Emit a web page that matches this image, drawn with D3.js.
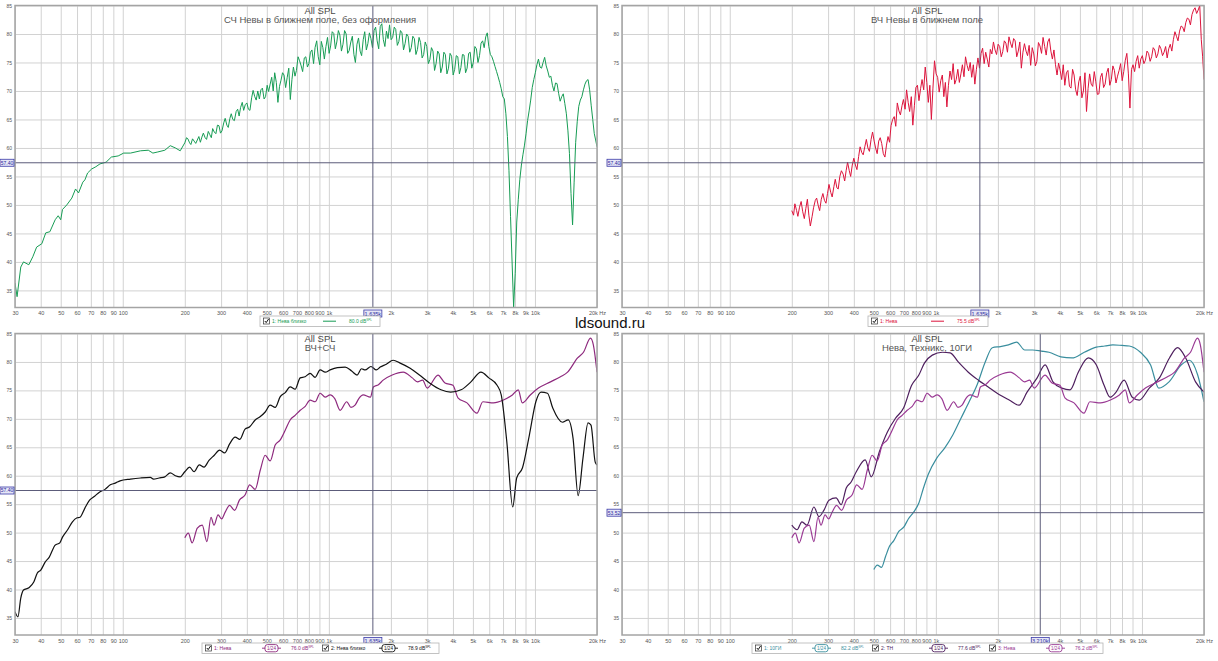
<!DOCTYPE html>
<html>
<head>
<meta charset="utf-8">
<script src="https://cdn.jsdelivr.net/npm/d3@7"></script>
<style>
  html, body { margin: 0; padding: 0; background: #fff; }
  svg { display: block; font-family: "Liberation Sans", Arial, sans-serif; }
</style>
</head>
<body>
<svg id="chart" width="1218" height="661"></svg>
<script>
// ---- axis ticks ----
const FREQ_TICKS = [30, 40, 50, 60, 70, 80, 90, 100, 200, 300, 400, 500, 600, 700, 800, 900,
  1000, 2000, 3000, 4000, 5000, 6000, 7000, 8000, 9000, 10000, 20000];
const DB_TICKS = [35, 40, 45, 50, 55, 60, 65, 70, 75, 80, 85];

// ---- 1/20 octave grid used by the raw (unsmoothed) near-field measurements ----
const FINE_HZ = [200, 207, 214, 222, 230, 238, 246, 255, 264, 273,
  283, 293, 303, 314, 325, 336, 348, 361, 373, 386,
  400, 414, 429, 444, 460, 476, 493, 510, 528, 546,
  566, 586, 606, 628, 650, 673, 696, 721, 746, 773,
  800, 828, 857, 888, 919, 951, 985, 1020, 1056, 1093,
  1131, 1171, 1213, 1255, 1300, 1345, 1393, 1442, 1493, 1546,
  1600, 1657, 1715, 1775, 1838, 1903, 1970, 2040, 2111, 2186,
  2263, 2343, 2425, 2511, 2599, 2691, 2786, 2884, 2986, 3091,
  3200, 3313, 3430, 3551, 3676, 3806, 3940, 4079, 4223, 4372,
  4526, 4685, 4850, 5022, 5199, 5382, 5572, 5768, 5972, 6182,
  6400, 6626, 6860, 7102, 7352, 7611, 7880, 8158, 8446, 8743,
  9051, 9370, 9701, 10043, 10397, 10764, 11144, 11537, 11944, 12365,
  12800, 13252, 13719, 14203, 14704, 15223, 15760, 16316, 16891, 17487,
  18102, 18741, 19402, 20000];
// points half-way between the FINE_HZ points
const HALF_HZ = [204, 211, 218, 226, 234, 242, 251, 260, 269, 278,
  288, 298, 309, 320, 331, 342, 355, 367, 380, 393,
  407, 422, 437, 452, 468, 485, 502, 519, 537, 556,
  576, 596, 617, 639, 662, 685, 709, 734, 760, 787,
  814, 843, 873, 904, 935, 968, 1003, 1038, 1075, 1112,
  1151, 1192, 1234, 1278, 1323, 1369, 1418, 1468, 1520, 1573,
  1628, 1686, 1745, 1807, 1870, 1937, 2005, 2076, 2149, 2225,
  2303, 2384, 2468, 2555, 2645, 2739, 2835, 2935, 3039, 3146,
  3257, 3372, 3491, 3614, 3741, 3873, 4010, 4151, 4298, 4449,
  4606, 4768, 4936, 5111, 5291, 5477, 5670, 5870, 6077, 6291,
  6513, 6743, 6981, 7227, 7481, 7745, 8018, 8302, 8594, 8897,
  9210, 9535, 9871, 10220, 10580, 10954, 11340, 11740, 12154, 12582,
  13025, 13485, 13960, 14453, 14962, 15490, 16036, 16602, 17187, 17794,
  18420, 19070, 19700];

// СЧ Невы в ближнем поле (raw), below 200 Hz
const MID_LOW_HZ = [30, 30.7, 32, 33, 35, 36.6, 38.2, 40.5, 42.3, 44.3,
  47, 48.6, 50, 51, 53.5, 56.6, 59, 61, 64, 65.5,
  67.5, 70.6, 74, 77.5, 83, 88, 95, 101, 109, 122,
  133, 140, 148, 160, 170, 180, 190];
const MID_LOW_DB = [36.3, 33.9, 39.1, 40.0, 39.5, 40.9, 42.6, 43.2, 45.1, 45.3,
  47.4, 48.1, 47.4, 49.2, 50.0, 51.2, 52.8, 52.1, 54.0, 54.4,
  55.6, 56.3, 56.7, 57.2, 57.5, 58.4, 58.6, 59.1, 59.1, 59.5,
  59.6, 59.1, 59.3, 59.6, 60.4, 60.0, 59.5];
// СЧ raw, on FINE_HZ
const MID_FINE_DB = [60.9, 61.6, 60.6, 61.2, 61.4, 61.0, 62.6, 61.5, 62.4, 63.4,
  62.5, 63.9, 63.0, 65.2, 63.6, 66.0, 64.8, 66.8, 67.1, 66.6,
  67.9, 66.6, 70.1, 68.4, 68.6, 70.5, 69.0, 69.9, 72.4, 73.2,
  68.0, 71.9, 72.8, 72.4, 68.5, 74.2, 73.6, 75.3, 73.4, 76.0,
  74.8, 77.2, 77.6, 76.0, 78.7, 75.6, 79.4, 77.9, 80.1, 78.6,
  79.8, 78.2, 80.0, 77.1, 79.6, 75.0, 79.3, 76.2, 80.4, 78.3,
  79.2, 80.6, 78.8, 81.3, 79.0, 80.5, 81.6, 79.4, 80.8, 78.7,
  80.2, 78.3, 79.6, 77.6, 79.2, 77.3, 78.5, 76.4, 77.8, 75.5,
  77.0, 74.8, 76.5, 74.2, 76.4, 74.0, 76.1, 73.8, 76.0, 74.1,
  76.3, 74.0, 76.8, 75.0, 77.4, 76.2, 78.8, 79.5, 77.8, 76.0,
  74.3, 72.5, 70.4, 68.6, 62.0, 48.0, 32.0, 47.0, 54.5, 58.8,
  62.5, 66.5, 70.6, 73.2, 75.6, 74.0, 75.9, 73.5, 72.6, 70.0,
  71.3, 68.2, 69.5, 66.0, 59.0, 46.5, 61.0, 67.3, 69.0, 71.2,
  72.0, 67.5, 62.5, 60.2];
// СЧ raw, on HALF_HZ
const MID_HALF_DB = [61.8, 60.9, 61.6, 60.8, 62.0, 61.9, 61.8, 62.9, 61.8, 62.8,
  64.0, 62.6, 64.4, 64.0, 65.2, 65.0, 66.4, 65.6, 68.0, 67.6,
  66.8, 68.8, 69.0, 70.0, 70.2, 68.6, 71.0, 71.2, 70.0, 71.5,
  70.8, 73.2, 70.6, 74.0, 72.0, 72.6, 76.0, 74.4, 75.8, 74.2,
  76.8, 74.8, 78.8, 74.6, 77.6, 77.8, 76.6, 80.4, 77.4, 80.6,
  77.0, 80.6, 76.6, 78.6, 76.4, 78.2, 77.0, 79.0, 77.2, 80.2,
  77.6, 81.2, 77.4, 81.8, 77.8, 79.2, 79.0, 81.2, 78.0, 80.6,
  77.2, 80.0, 76.8, 79.6, 76.4, 79.4, 75.8, 78.6, 74.8, 77.6,
  73.6, 77.0, 73.2, 76.8, 73.0, 76.6, 72.8, 76.2, 73.0, 76.4,
  73.2, 76.6, 74.0, 77.8, 75.0, 78.4, 77.6, 80.2, 76.4, 75.2,
  73.4, 71.5, 69.0, 66.0, 56.0, 40.0, 38.0, 51.0, 57.0, 60.5,
  64.8, 68.4, 72.0, 74.6, 74.2, 75.0, 74.4, 72.4, 71.0, 71.4,
  69.6, 69.0, 67.8, 63.0, 52.0, 54.0, 64.6, 68.4, 70.2, 71.8,
  70.2, 65.0, 61.4];

// ВЧ Невы в ближнем поле (raw), on FINE_HZ
const HF_FINE_DB = [49.0, 50.2, 48.0, 50.6, 47.6, 51.0, 46.3, 49.5, 51.2, 49.0,
  52.0, 50.3, 53.6, 51.4, 54.5, 52.8, 56.0, 54.2, 57.5, 55.0,
  58.2, 56.2, 60.2, 58.8, 61.5, 59.4, 62.8, 60.0, 61.2, 60.8,
  58.4, 62.0, 63.9, 65.5, 67.9, 65.8, 68.5, 70.2, 66.4, 64.0,
  70.6, 68.3, 72.0, 74.2, 68.0, 65.0, 75.3, 72.4, 71.8, 69.0,
  67.2, 73.5, 74.8, 72.0, 71.5, 74.6, 76.0, 73.5, 72.4, 71.2,
  75.8, 76.6, 74.8, 75.6, 77.3, 78.6, 76.4, 77.8, 76.9, 78.4,
  79.5, 77.6, 78.8, 77.0, 74.0, 78.3, 76.2, 74.5, 76.5, 75.2,
  77.9, 79.4, 76.3, 79.2, 75.6, 74.6, 74.9, 72.0, 71.0, 73.6,
  70.5, 72.8, 69.2, 72.6, 70.0, 66.4, 73.0, 70.8, 71.6, 69.5,
  73.1, 71.2, 74.0, 72.0, 73.6, 72.6, 74.8, 73.4, 76.6, 67.0,
  74.6, 75.2, 74.0, 76.2, 75.4, 76.6, 76.0, 77.2, 76.5, 77.4,
  76.8, 75.8, 78.2, 79.0, 79.6, 80.5, 81.2, 82.0, 82.6, 83.4,
  84.6, 84.2, 79.0, 72.0];
// ВЧ raw, on HALF_HZ
const HF_HALF_DB = [48.2, 49.0, 49.6, 48.8, 49.4, 48.2, 48.0, 50.8, 49.8, 51.0,
  50.8, 52.0, 52.2, 53.2, 53.0, 55.0, 55.4, 56.0, 56.0, 57.0,
  57.0, 58.5, 59.2, 60.2, 60.0, 61.5, 61.2, 59.0, 61.8, 59.0,
  60.5, 61.0, 65.0, 63.8, 66.5, 67.4, 66.8, 68.0, 69.0, 67.5,
  71.0, 70.4, 70.2, 71.5, 71.0, 70.5, 73.0, 69.8, 72.8, 71.5,
  71.0, 72.0, 71.2, 73.8, 73.0, 72.5, 74.5, 75.0, 74.6, 73.8,
  74.0, 77.5, 76.8, 74.2, 76.5, 77.2, 78.2, 76.0, 78.8, 76.8,
  78.4, 79.2, 76.0, 78.6, 76.8, 77.0, 78.0, 77.6, 74.4, 78.5,
  76.6, 77.8, 78.6, 77.0, 77.2, 72.8, 73.6, 74.6, 73.2, 70.8,
  73.8, 70.2, 71.6, 68.8, 73.2, 70.4, 71.2, 73.4, 69.4, 72.4,
  70.6, 73.2, 71.0, 74.4, 71.4, 73.6, 71.8, 75.4, 73.0, 73.8,
  73.4, 76.2, 75.6, 74.8, 77.0, 75.2, 77.6, 75.8, 78.0, 76.2,
  77.8, 77.4, 77.0, 80.4, 78.8, 81.4, 80.4, 82.8, 81.6, 84.2,
  83.6, 85.0, 76.0];

// 2: Нева близко (smoothed mid driver)
const NEAR_HZ = [30, 31, 32, 33, 35, 37, 38.5, 40, 42, 44,
  47, 49.5, 51, 54, 57, 60, 62, 65.5, 69, 73,
  77, 82, 87, 92, 97, 109, 122, 136, 141, 150,
  160, 170, 180, 190, 200, 211, 222, 235, 248, 262,
  278, 295, 312, 330, 351, 370, 392, 413, 439, 465,
  491, 519, 549, 581, 614, 649, 686, 726, 767, 811,
  858, 907, 960, 1014, 1100, 1200, 1290, 1370, 1440, 1500,
  1600, 1700, 1775, 1900, 2050, 2218, 2480, 2750, 3080, 3500,
  3900, 4380, 4890, 5470, 5970, 6550, 6860, 7300, 7800, 8150,
  8700, 9400, 10100, 10700, 11500, 12200, 13600, 14500, 15300, 16200,
  17100, 18100, 18700, 19600, 20000];
const NEAR_DB = [36.1, 35.2, 38.5, 39.9, 40.3, 41.3, 42.9, 43.4, 44.8, 45.7,
  47.8, 48.2, 49.2, 50.5, 51.9, 52.6, 52.7, 54.3, 55.7, 56.4,
  57.1, 57.6, 58.4, 58.7, 59.1, 59.4, 59.6, 59.7, 59.4, 59.6,
  59.8, 60.5, 60.0, 59.8, 60.7, 61.5, 60.7, 61.9, 61.5, 62.7,
  63.6, 64.5, 64.0, 65.6, 66.8, 66.4, 68.2, 68.6, 69.8, 70.4,
  71.2, 72.4, 72.0, 73.9, 74.6, 75.6, 75.2, 77.2, 77.4, 78.0,
  77.3, 78.6, 78.2, 78.6, 79.0, 79.1, 78.4, 77.7, 78.8, 78.6,
  79.2, 78.6, 79.1, 79.6, 80.3, 79.8, 78.9, 77.7, 76.3, 75.1,
  74.7, 75.1, 76.5, 78.2, 77.2, 75.9, 74.2, 66.0, 54.5, 59.6,
  61.4, 67.2, 73.0, 74.7, 74.5, 71.9, 69.4, 69.8, 66.6, 56.5,
  63.1, 69.3, 68.9, 62.4, 61.9];

// 1: Нева (smoothed tweeter)
const NEVA_HZ = [200, 208, 217, 230, 243, 256, 268, 277, 290, 302,
  314, 330, 349, 368, 392, 413, 439, 465, 491, 519,
  549, 581, 614, 649, 686, 726, 768, 811, 858, 907,
  960, 1014, 1070, 1134, 1221, 1280, 1340, 1400, 1467, 1590,
  1645, 1740, 1834, 2030, 2295, 2540, 2690, 2850, 3000, 3385,
  3660, 4000, 4230, 4680, 5230, 5590, 6290, 7030, 7770, 8300,
  8680, 9490, 10400, 11900, 13300, 14400, 16100, 17200, 18600, 19200,
  20000];
const NEVA_DB = [49.1, 49.9, 48.2, 50.8, 51.3, 48.4, 52.7, 51.3, 53.1, 52.4,
  53.6, 54.8, 53.9, 55.7, 56.6, 58.4, 57.6, 61.0, 63.6, 62.6,
  65.4, 66.3, 68.0, 69.8, 70.6, 71.5, 72.2, 73.3, 73.0, 74.5,
  73.8, 74.2, 73.5, 71.5, 73.0, 72.0, 72.4, 73.6, 74.2, 73.8,
  75.6, 76.0, 76.8, 77.7, 78.2, 77.2, 76.5, 76.8, 75.4, 77.7,
  76.3, 75.9, 73.7, 72.8, 71.0, 73.0, 72.8, 73.3, 74.2, 75.1,
  72.8, 74.2, 75.4, 76.5, 77.4, 78.2, 80.7, 81.7, 84.2, 83.0,
  78.2];

// Техникс
const TECH_HZ = [200, 212, 224, 237, 256, 271, 287, 303, 328, 347,
  368, 388, 411, 454, 486, 532, 582, 637, 697, 763,
  827, 880, 961, 1075, 1174, 1284, 1437, 1608, 1795, 1983,
  2268, 2532, 2770, 3100, 3390, 3700, 4090, 4480, 4910, 5490,
  6000, 6550, 7000, 7490, 8190, 8970, 9700, 10850, 12150, 13600,
  14880, 16300, 18200, 20000];
const TECH_DB = [51.3, 50.5, 51.9, 51.3, 54.5, 52.8, 54.0, 55.7, 56.1, 54.9,
  57.9, 58.9, 60.7, 62.8, 59.8, 64.2, 67.7, 70.1, 71.9, 75.9,
  77.7, 79.8, 81.2, 81.7, 81.6, 80.0, 78.2, 76.8, 75.6, 74.5,
  73.3, 72.4, 74.7, 77.2, 79.5, 76.5, 75.4, 75.1, 78.2, 80.7,
  79.5, 75.9, 73.8, 74.7, 76.8, 73.8, 73.3, 75.4, 77.2, 80.7,
  82.5, 80.7, 76.5, 74.7];

// 10ГИ
const GI_HZ = [500, 520, 545, 570, 594, 625, 661, 700, 735, 780,
  827, 870, 920, 1010, 1105, 1210, 1324, 1450, 1586, 1736,
  1880, 2056, 2250, 2465, 2700, 2950, 3250, 3540, 4040, 4580,
  5250, 6000, 6600, 7220, 8000, 8680, 9830, 11000, 12070, 13530,
  15530, 17000, 18640, 20000];
const GI_DB = [43.5, 44.3, 43.9, 45.8, 47.5, 48.6, 50.2, 51.0, 52.4, 53.6,
  55.2, 57.8, 60.3, 63.1, 64.9, 67.2, 70.1, 73.0, 76.0, 80.0,
  82.5, 82.7, 83.0, 83.5, 82.1, 82.1, 81.9, 81.7, 80.9, 80.7,
  81.7, 82.6, 82.8, 83.0, 82.9, 82.8, 81.7, 79.5, 75.4, 76.5,
  79.5, 80.3, 77.7, 73.0];

// ---- colours ----
const C_GREEN = '#179c54';
const C_RED = '#dc143c';
const C_BLACK = '#111111';
const C_NEVA = '#8e2a7e';
const C_TEAL = '#3a8e9e';
const C_TECH = '#4e1f5e';
const C_NEVA2 = '#9a3a94';

const W = 582;
const svg = d3.select('#chart');

const zip = (hz, db) => hz.map((f, i) => ({ f, v: db[i] }));
const byFreq = (a, b) => a.f - b.f;
const fmtHz = d => d === 20000 ? '20k Hz' : (d >= 1000 ? (d / 1000) + 'k' : String(d));

const midRaw = zip(MID_LOW_HZ, MID_LOW_DB)
  .concat(zip(FINE_HZ, MID_FINE_DB), zip(HALF_HZ, MID_HALF_DB)).sort(byFreq);
const hfRaw = zip(FINE_HZ, HF_FINE_DB).concat(zip(HALF_HZ, HF_HALF_DB)).sort(byFreq);

const panels = [
  {
    id: 'tl', left: 15, top: 5.5, h: 302,
    titles: ['All SPL', 'СЧ Невы в ближнем поле, без оформления'],
    series: [{ data: midRaw, color: C_GREEN, w: 1, smooth: false }],
    xc: 1635, xcLabel: '1.635k', yc: 57.4, ycLabel: '57.40',
    legend: { x: 260, y: 316, w: 120, items: [{ label: '1: Нева близко', color: C_GREEN, icon: 'line', value: '80.0' }] }
  },
  {
    id: 'tr', left: 622, top: 5.5, h: 302,
    titles: ['All SPL', 'ВЧ Невы в ближнем поле'],
    series: [{ data: hfRaw, color: C_RED, w: 1, smooth: false }],
    xc: 1635, xcLabel: '1.635k', yc: 57.4, ycLabel: '57.40',
    legend: { x: 868, y: 316, w: 120, items: [{ label: '1: Нева', color: C_RED, icon: 'line', value: '75.5' }] }
  },
  {
    id: 'bl', left: 15, top: 333.5, h: 301.5,
    titles: ['All SPL', 'ВЧ+СЧ'],
    series: [
      { data: zip(NEVA_HZ, NEVA_DB), color: C_NEVA, w: 1.2, smooth: true },
      { data: zip(NEAR_HZ, NEAR_DB), color: C_BLACK, w: 1.2, smooth: true }
    ],
    xc: 1635, xcLabel: '1.635k', yc: 57.4, ycLabel: '57.40',
    legend: { x: 202, y: 643, w: 237, items: [
      { label: '1: Нева', color: C_NEVA, icon: 'smooth', value: '76.0' },
      { label: '2: Нева близко', color: C_BLACK, icon: 'smooth', value: '78.9' }
    ] }
  },
  {
    id: 'br', left: 622, top: 333.5, h: 301.5,
    titles: ['All SPL', 'Нева, Техникс, 10ГИ'],
    series: [
      { data: zip(GI_HZ, GI_DB), color: C_TEAL, w: 1.2, smooth: true },
      { data: zip(TECH_HZ, TECH_DB), color: C_TECH, w: 1.2, smooth: true },
      { data: zip(NEVA_HZ, NEVA_DB), color: C_NEVA2, w: 1.2, smooth: true }
    ],
    xc: 3210, xcLabel: '3.210k', yc: 53.5, ycLabel: '53.52',
    legend: { x: 752, y: 643, w: 351, items: [
      { label: '1: 10ГИ', color: C_TEAL, icon: 'smooth', value: '82.2' },
      { label: '2: ТН', color: C_TECH, icon: 'smooth', value: '77.6' },
      { label: '3: Нева', color: C_NEVA2, icon: 'smooth', value: '76.2' }
    ] }
  }
];

function drawPanel(p) {
  const x = d3.scaleLog().domain([30, 20000]).range([0, W]);
  const y = d3.scaleLinear().domain([32, 85]).range([p.h, 0]);
  const g = svg.append('g').attr('transform', `translate(${p.left},${p.top})`);
  const cx = x(p.xc), cy = y(p.yc);

  g.append('rect').attr('width', W).attr('height', p.h).attr('fill', '#fff');

  // vertical grid + frequency labels
  const xa = g.append('g')
    .attr('transform', `translate(0,${p.h})`)
    .call(d3.axisBottom(x).tickValues(FREQ_TICKS).tickSize(-p.h).tickPadding(4).tickFormat(fmtHz));
  xa.select('.domain').remove();
  xa.selectAll('line').attr('stroke', '#d2d2d2').attr('stroke-width', 1);
  xa.selectAll('text').attr('font-size', 5.5).attr('fill', '#555')
    .attr('font-family', '"Liberation Sans", Arial, sans-serif');
  // the cursor readout box hides the label under it
  xa.selectAll('.tick').filter(d => Math.abs(x(d) - cx) < 12).select('text').remove();

  // horizontal grid + level labels
  const ya = g.append('g')
    .call(d3.axisLeft(y).tickValues(DB_TICKS).tickSize(-W).tickPadding(3).tickFormat(d3.format('d')));
  ya.select('.domain').remove();
  ya.selectAll('line').attr('stroke', '#d2d2d2').attr('stroke-width', 1);
  ya.selectAll('text').attr('font-size', 5).attr('fill', '#555')
    .attr('font-family', '"Liberation Sans", Arial, sans-serif');
  ya.selectAll('.tick').filter(d => Math.abs(y(d) - cy) < 5).select('text').remove();

  // titles
  g.append('text').attr('x', 305).attr('y', 8).attr('text-anchor', 'middle')
    .attr('font-size', 9.5).attr('fill', '#4a4a4a').text(p.titles[0]);
  g.append('text').attr('x', 305).attr('y', 17.2).attr('text-anchor', 'middle')
    .attr('font-size', 9.5).attr('fill', '#555').text(p.titles[1]);

  // curves
  const clipId = 'clip-' + p.id;
  g.append('clipPath').attr('id', clipId)
    .append('rect').attr('width', W).attr('height', p.h);
  const curves = g.append('g').attr('clip-path', `url(#${clipId})`);
  p.series.forEach(s => {
    const line = d3.line()
      .x(d => x(d.f))
      .y(d => y(d.v))
      .curve(s.smooth ? d3.curveMonotoneX : d3.curveLinear);
    curves.append('path')
      .datum(s.data)
      .attr('fill', 'none')
      .attr('stroke', s.color)
      .attr('stroke-width', s.w)
      .attr('stroke-linejoin', 'round')
      .attr('d', line);
  });

  // cursors
  g.append('line').attr('x1', cx).attr('x2', cx).attr('y1', 0).attr('y2', p.h)
    .attr('stroke', '#5c5c7a').attr('stroke-width', 1);
  g.append('line').attr('x1', 0).attr('x2', W).attr('y1', cy).attr('y2', cy)
    .attr('stroke', '#5c5c7a').attr('stroke-width', 1);

  // frame
  g.append('rect').attr('width', W).attr('height', p.h)
    .attr('fill', 'none').attr('stroke', '#a4a4a4').attr('stroke-width', 1.5);

  // cursor readouts
  const bx = g.append('g').attr('transform', `translate(${cx - 9},${p.h + 2.5})`);
  bx.append('rect').attr('width', 18).attr('height', 7).attr('fill', '#e6e6f6')
    .attr('stroke', '#3a3aa8').attr('stroke-width', 0.8);
  bx.append('text').attr('x', 9).attr('y', 5.6).attr('text-anchor', 'middle')
    .attr('font-size', 5.5).attr('fill', '#2a2aa0').text(p.xcLabel);
  const by = g.append('g').attr('transform', `translate(-15,${cy - 3.5})`);
  by.append('rect').attr('width', 14).attr('height', 7).attr('fill', '#e6e6f6')
    .attr('stroke', '#3a3aa8').attr('stroke-width', 0.8);
  by.append('text').attr('x', 7).attr('y', 5.4).attr('text-anchor', 'middle')
    .attr('font-size', 5).attr('fill', '#2a2aa0').text(p.ycLabel);

  drawLegend(p.legend);
}

function drawLegend(L) {
  const g = svg.append('g').attr('transform', `translate(${L.x},${L.y})`);
  g.append('rect').attr('width', L.w).attr('height', 10.5)
    .attr('fill', '#fff').attr('stroke', '#b4b4b4').attr('stroke-width', 0.8);
  L.items.forEach((it, i) => {
    const ig = g.append('g').attr('transform', `translate(${3 + i * 117},0)`);
    // checkbox
    ig.append('rect').attr('x', 0.5).attr('y', 2).attr('width', 6).attr('height', 6)
      .attr('fill', '#fff').attr('stroke', '#333').attr('stroke-width', 0.7);
    ig.append('path').attr('d', 'M1.8,5 L3.2,6.6 L5.6,3')
      .attr('fill', 'none').attr('stroke', '#111').attr('stroke-width', 1);
    ig.append('text').attr('x', 9).attr('y', 7).attr('font-size', 5)
      .attr('fill', it.color).text(it.label);
    if (it.icon === 'line') {
      ig.append('line').attr('x1', 60).attr('x2', 73).attr('y1', 5.2).attr('y2', 5.2)
        .attr('stroke', it.color).attr('stroke-width', 1);
    } else {
      ig.append('line').attr('x1', 57).attr('x2', 76).attr('y1', 5.2).attr('y2', 5.2)
        .attr('stroke', it.color).attr('stroke-width', 0.9);
      ig.append('rect').attr('x', 60).attr('y', 1.6).attr('width', 13).attr('height', 7.2).attr('rx', 2.5)
        .attr('fill', '#fff').attr('stroke', it.color).attr('stroke-width', 0.9);
      ig.append('text').attr('x', 66.5).attr('y', 7).attr('text-anchor', 'middle')
        .attr('font-size', 4.6).attr('fill', it.color).text('1/24');
    }
    const vt = ig.append('text').attr('x', 86).attr('y', 7).attr('font-size', 5)
      .attr('fill', it.color);
    vt.append('tspan').text(it.value + ' dB');
    vt.append('tspan').attr('dy', -2).attr('font-size', 3).text('SPL');
  });
}

panels.forEach(drawPanel);

svg.append('text').attr('x', 575).attr('y', 328)
  .attr('font-size', 15).attr('fill', '#111').text('ldsound.ru');
</script>
</body>
</html>
